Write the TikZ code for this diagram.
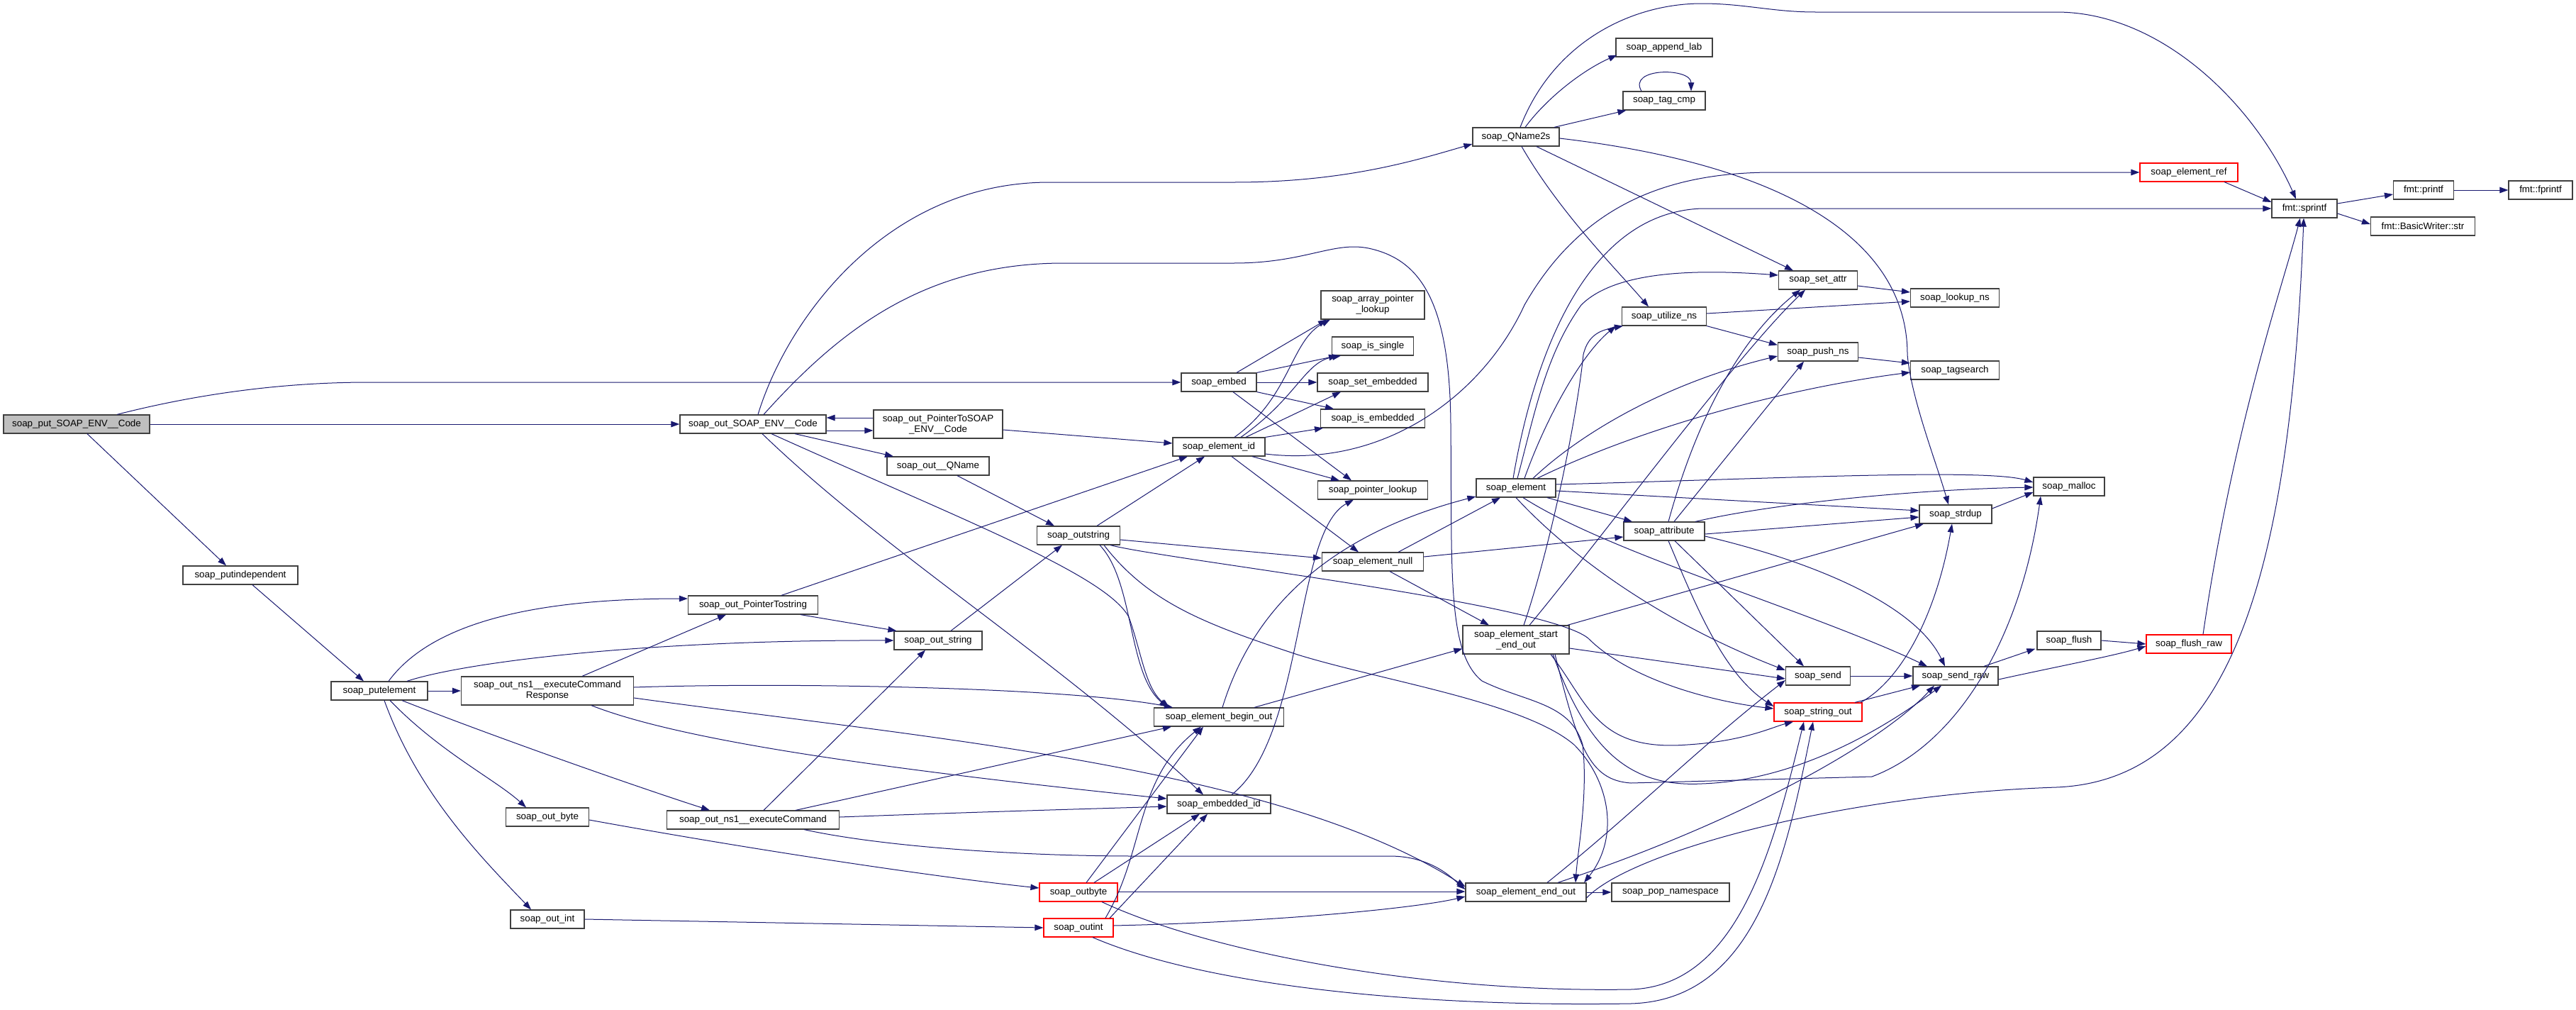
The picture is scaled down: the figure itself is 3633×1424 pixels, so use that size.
\documentclass[tikz,border=0pt]{standalone}
\usepackage{fontspec}
\setmainfont{Liberation Sans}
\usetikzlibrary{arrows.meta}
\definecolor{edgec}{HTML}{191970}
\definecolor{boxc}{HTML}{404040}
\definecolor{redc}{HTML}{FF0000}
\definecolor{rootc}{HTML}{BFBFBF}
\tikzset{
 fn/.style={draw=boxc, line width=1.2pt, fill=white, rectangle, minimum height=26pt, inner sep=0pt, font=\fontsize{13.4}{15}\selectfont, align=center, anchor=center},
 fntwo/.style={fn, minimum height=40pt},
 hot/.style={draw=redc},
 e/.style={draw=edgec, line width=1pt, -{Triangle[length=12pt,width=8.5pt]}},
}
\begin{document}
\begin{tikzpicture}[x=1pt,y=-1pt]
\useasboundingbox (0,0) rectangle (3633,1424);
\fill[white] (0,0) rectangle (3633,1424);
% nodes
\node[fn, fill=rootc, minimum width=206pt] (put) at (108,598) {soap\_put\_SOAP\_ENV\_\_Code};
\node[fn, minimum width=162pt] (putind) at (339,811) {soap\_putindependent};
\node[fn, minimum width=136pt] (putel) at (535,974) {soap\_putelement};
\node[fn, minimum width=206pt] (outcode) at (1062,598) {soap\_out\_SOAP\_ENV\_\_Code};
\node[fntwo, minimum width=182pt] (ptrcode) at (1323,598) {soap\_out\_PointerToSOAP\\\_ENV\_\_Code};
\node[fn, minimum width=144pt] (qname) at (1323,657) {soap\_out\_\_QName};
\node[fn, minimum width=183pt] (ptrstr) at (1062,853) {soap\_out\_PointerTostring};
\node[fn, minimum width=124pt] (outstr) at (1323,903) {soap\_out\_string};
\node[fntwo, minimum width=243pt] (cmdresp) at (772,974) {soap\_out\_ns1\_\_executeCommand\\Response};
\node[fn, minimum width=117pt] (obyte) at (772,1152) {soap\_out\_byte};
\node[fn, minimum width=243pt] (cmd) at (1062,1156) {soap\_out\_ns1\_\_executeCommand};
\node[fn, minimum width=104pt] (oint) at (772,1296) {soap\_out\_int};
\node[fntwo, minimum width=146pt] (apl) at (1936,430) {soap\_array\_pointer\\\_lookup};
\node[fn, minimum width=115pt] (issingle) at (1936,488) {soap\_is\_single};
\node[fn, minimum width=106pt] (embed) at (1719,539) {soap\_embed};
\node[fn, minimum width=156pt] (setemb) at (1936,539) {soap\_set\_embedded};
\node[fn, minimum width=147pt] (isemb) at (1936,590) {soap\_is\_embedded};
\node[fn, minimum width=130pt] (elid) at (1719,630) {soap\_element\_id};
\node[fn, minimum width=155pt] (ptrlook) at (1936,691) {soap\_pointer\_lookup};
\node[fn, minimum width=117pt] (outstring) at (1521,755) {soap\_outstring};
\node[fn, minimum width=143pt] (elnull) at (1936,792) {soap\_element\_null};
\node[fn, minimum width=183pt] (ebo) at (1719,1011) {soap\_element\_begin\_out};
\node[fn, minimum width=146pt] (embid) at (1719,1134) {soap\_embedded\_id};
\node[fn, hot, minimum width=110pt] (xbyte) at (1521,1258) {soap\_outbyte};
\node[fn, hot, minimum width=98pt] (xint) at (1521,1308) {soap\_outint};
\node[fn, minimum width=122pt] (qname2s) at (2138,193) {soap\_QName2s};
\node[fn, minimum width=136pt] (applab) at (2347,67) {soap\_append\_lab};
\node[fn, minimum width=116pt] (tagcmp) at (2347,142) {soap\_tag\_cmp};
\node[fn, minimum width=111pt] (setattr) at (2564,395) {soap\_set\_attr};
\node[fn, minimum width=125pt] (lookupns) at (2757,420) {soap\_lookup\_ns};
\node[fn, minimum width=119pt] (utilns) at (2347,446) {soap\_utilize\_ns};
\node[fn, minimum width=113pt] (pushns) at (2564,496) {soap\_push\_ns};
\node[fn, minimum width=125pt] (tagsearch) at (2757,522) {soap\_tagsearch};
\node[fn, minimum width=112pt] (element) at (2138,688) {soap\_element};
\node[fn, minimum width=114pt] (attribute) at (2347,749) {soap\_attribute};
\node[fn, minimum width=102pt] (strdup) at (2758,725) {soap\_strdup};
\node[fn, minimum width=100pt] (malloc) at (2918,686) {soap\_malloc};
\node[fntwo, minimum width=150pt] (eseo) at (2138,902) {soap\_element\_start\\\_end\_out};
\node[fn, minimum width=91pt] (send) at (2564,953) {soap\_send};
\node[fn, minimum width=120pt] (sendraw) at (2758,953) {soap\_send\_raw};
\node[fn, hot, minimum width=124pt] (strout) at (2564,1004) {soap\_string\_out};
\node[fn, minimum width=90pt] (flush) at (2918,903) {soap\_flush};
\node[fn, hot, minimum width=120pt] (flushraw) at (3087,908) {soap\_flush\_raw};
\node[fn, minimum width=170pt] (eeo) at (2152,1258) {soap\_element\_end\_out};
\node[fn, minimum width=166pt] (popns) at (2356,1258) {soap\_pop\_namespace};
\node[fn, hot, minimum width=138pt] (elref) at (3087,243) {soap\_element\_ref};
\node[fn, minimum width=92pt] (sprintf) at (3250,294) {fmt::sprintf};
\node[fn, minimum width=85pt] (printf) at (3418,268) {fmt::printf};
\node[fn, minimum width=90pt] (fprintf) at (3583,268) {fmt::fprintf};
\node[fn, minimum width=147pt] (bwstr) at (3417,319) {fmt::BasicWriter::str};
% edges from root
\draw[e] ([xshift=57pt]put.north) .. controls (280,555) and (400,539) .. (520,539) -- (embed.west);
\draw[e] (put.east) -- (outcode.west);
\draw[e] ([xshift=15pt]put.south) -- ([xshift=-20pt]putind.north);
\draw[e] ([xshift=17pt]putind.south) -- ([xshift=-22pt]putel.north);
% putelement
\draw[e] (putel.east) -- (cmdresp.west);
\draw[e] ([xshift=13pt]putel.north) .. controls (600,890) and (720,844) .. ([yshift=9pt]ptrstr.west);
\draw[e] ([xshift=39pt]putel.north) .. controls (650,935) and (900,902) .. (outstr.west);
\draw[e] ([xshift=32pt]putel.south) .. controls (700,1040) and (900,1110) .. ([xshift=-61pt]cmd.north);
\draw[e] ([xshift=15pt]putel.south) .. controls (620,1060) and (700,1100) .. ([xshift=-30pt]obyte.north);
\draw[e] ([xshift=7pt]putel.south) .. controls (590,1120) and (680,1210) .. ([xshift=-23pt]oint.north);
% soap_out_SOAP_ENV__Code
\draw[e] ([yshift=-9pt]outcode.east) -- ([yshift=-9pt]ptrcode.west);
\draw[e] ([yshift=9pt]ptrcode.west) -- ([yshift=9pt]outcode.east);
\draw[e] ([xshift=59pt]outcode.south) -- ([xshift=-63pt]qname.north);
\draw[e] ([xshift=7pt]outcode.north) .. controls (1110,450) and (1250,257) .. (1480,257) -- (1740,257) .. controls (1900,257) and (2000,225) .. ([yshift=-10pt]qname2s.west);
\draw[e] ([xshift=15pt]outcode.north) .. controls (1180,470) and (1300,371) .. (1500,371) -- (1740,371) .. controls (1840,371) and (1880,340) .. (1930,350) .. controls (2000,365) and (2045,420) .. (2046,600) .. controls (2048,800) and (2040,920) .. (2090,960) .. controls (2150,990) and (2215,990) .. (2232,1050) .. controls (2240,1120) and (2225,1200) .. ([xshift=70pt]eeo.north);
\draw[e] ([xshift=26pt]outcode.south) .. controls (1350,730) and (1560,810) .. (1592,870) .. controls (1610,920) and (1615,970) .. ([xshift=-70pt]ebo.north);
\draw[e] ([xshift=13pt]outcode.south) .. controls (1250,780) and (1480,920) .. ([xshift=-22pt]embid.north);
\draw[e] ([yshift=-8pt]ptrcode.east) -- ([yshift=5pt]elid.west);
\draw[e] ([xshift=27pt]qname.south) -- ([xshift=-34pt]outstring.north);
\draw[e] ([xshift=67pt]ptrstr.south) -- ([xshift=4pt]outstr.north west);
\draw[e] ([xshift=40pt]ptrstr.north) -- ([xshift=-44pt]elid.south);
\draw[e] ([xshift=18pt]outstr.north) -- ([xshift=-23pt]outstring.south);
% executeCommandResponse
\draw[e] ([xshift=49pt]cmdresp.north) -- ([xshift=-38pt]ptrstr.south);
\draw[e] ([yshift=5pt]cmdresp.east) .. controls (1100,962) and (1500,968) .. ([xshift=-65pt]ebo.north);
\draw[e] ([xshift=62pt]cmdresp.south) .. controls (950,1040) and (1200,1080) .. ([yshift=8pt]embid.west);
\draw[e] ([yshift=-10pt]cmdresp.east) .. controls (1300,1040) and (1800,1080) .. ([yshift=8pt]eeo.west);
% executeCommand
\draw[e] ([xshift=15pt]cmd.north) -- ([xshift=-18pt]outstr.south);
\draw[e] ([xshift=60pt]cmd.north) -- ([xshift=-67pt]ebo.south);
\draw[e] ([yshift=4pt]cmd.east) .. controls (1400,1144) and (1550,1140) .. ([yshift=-3pt]embid.west);
\draw[e] ([xshift=72pt]cmd.south) .. controls (1250,1195) and (1450,1207) .. (1600,1207) -- (1960,1207) .. controls (2020,1207) and (2050,1240) .. ([yshift=4pt]eeo.west);
\draw[e] ([yshift=-4pt]obyte.east) .. controls (1100,1205) and (1350,1240) .. ([yshift=6pt]xbyte.west);
\draw[e] (oint.east) -- (xint.west);
% embed
\draw[e] ([xshift=25pt]embed.north) -- ([xshift=-65pt]apl.south);
\draw[e] (embed.north east) -- ([xshift=-50pt]issingle.south);
\draw[e] (embed.east) -- (setemb.west);
\draw[e] (embed.south east) -- ([xshift=-55pt]isemb.north);
\draw[e] ([xshift=20pt]embed.south) -- ([xshift=-30pt]ptrlook.north);
% element_id
\draw[e] ([xshift=22pt]elid.north) .. controls (1820,560) and (1820,480) .. ([xshift=-60pt]apl.south);
\draw[e] ([xshift=31pt]elid.north) .. controls (1830,560) and (1840,510) .. ([xshift=-45pt]issingle.south);
\draw[e] ([xshift=38pt]elid.north) -- ([xshift=-45pt]setemb.south);
\draw[e] (elid.north east) -- ([xshift=-70pt]isemb.south);
\draw[e] ([xshift=47pt]elid.south) -- ([xshift=-47pt]ptrlook.north);
\draw[e] ([xshift=18pt]elid.south) -- ([xshift=-20pt]elnull.north);
\draw[e] ([yshift=-10pt]elid.east) .. controls (1950,660) and (2090,560) .. (2150,430) .. controls (2230,290) and (2350,243) .. (2500,243) -- (elref.west);
% outstring
\draw[e] ([xshift=26pt]outstring.north) -- ([xshift=-20pt]elid.south);
\draw[e] ([yshift=-6pt]outstring.east) -- ([yshift=5pt]elnull.west);
\draw[e] ([xshift=45pt]outstring.south) .. controls (1650,790) and (2180,850) .. (2240,900) .. controls (2300,960) and (2420,990) .. ([yshift=5pt]strout.west);
\draw[e] ([xshift=30pt]outstring.south) .. controls (1600,820) and (1590,950) .. ([xshift=-72pt]ebo.north);
\draw[e] ([xshift=36pt]outstring.south) .. controls (1620,850) and (1700,880) .. (1830,923) .. controls (1950,960) and (2150,990) .. (2220,1050) .. controls (2270,1100) and (2285,1180) .. ([xshift=82pt]eeo.north);
% element_null, begin_out, embedded_id
\draw[e] ([xshift=36pt]elnull.north) -- ([xshift=-22pt]element.south);
\draw[e] ([yshift=7pt]elnull.east) -- ([yshift=-8pt]attribute.west);
\draw[e] ([xshift=24pt]elnull.south) -- ([xshift=-38pt]eseo.north);
\draw[e] ([xshift=5pt]ebo.north) .. controls (1760,880) and (1850,760) .. ([yshift=-12pt]element.west);
\draw[e] ([xshift=50pt]ebo.north) -- ([yshift=8pt]eseo.south west);
\draw[e] ([xshift=18pt]embid.north) .. controls (1840,1040) and (1825,750) .. ([xshift=-27pt]ptrlook.south);
% outbyte / outint
\draw[e] ([xshift=11pt]xbyte.north) -- ([xshift=-22pt]ebo.south);
\draw[e] ([xshift=22pt]xbyte.north) -- ([xshift=-27pt]embid.south);
\draw[e] ([yshift=1pt]xbyte.east) -- ([yshift=1pt]eeo.west);
\draw[e] ([xshift=33pt]xbyte.south) .. controls (1700,1340) and (2000,1400) .. (2300,1395) .. controls (2450,1390) and (2500,1200) .. ([xshift=-20pt]strout.south);
\draw[e] ([xshift=38pt]xint.north) .. controls (1615,1200) and (1600,1100) .. ([xshift=-25pt]ebo.south);
\draw[e] ([xshift=44pt]xint.north) -- ([xshift=-16pt]embid.south);
\draw[e] ([yshift=3pt]xint.east) .. controls (1800,1300) and (2000,1280) .. ([yshift=-6pt]eeo.west);
\draw[e] ([xshift=20pt]xint.south) .. controls (1700,1390) and (2000,1420) .. (2300,1415) .. controls (2480,1410) and (2520,1200) .. ([xshift=-7pt]strout.south);
% QName2s
\draw[e] ([xshift=13pt]qname2s.north) .. controls (2180,140) and (2230,100) .. ([xshift=2pt,yshift=3pt]applab.south west);
\draw[e] ([xshift=54pt]qname2s.north) -- ([xshift=5pt]tagcmp.south west);
\draw[e] ([xshift=-32pt]tagcmp.north) .. controls (2295,95) and (2385,95) .. ([xshift=38pt]tagcmp.north);
\draw[e] ([xshift=6pt]qname2s.north) .. controls (2190,60) and (2300,5) .. (2400,5) .. controls (2460,5) and (2500,17) .. (2560,17) -- (2900,17) .. controls (3050,17) and (3180,150) .. ([xshift=-12pt]sprintf.north);
\draw[e] ([xshift=29pt]qname2s.south) -- ([xshift=-35pt]setattr.north);
\draw[e] ([xshift=8pt]qname2s.south) .. controls (2200,300) and (2280,380) .. ([xshift=-22pt]utilns.north);
\draw[e] ([yshift=-2pt]qname2s.east) .. controls (2500,230) and (2690,330) .. (2690,500) .. controls (2695,560) and (2730,650) .. ([xshift=-10pt]strdup.north);
\draw[e] ([yshift=-8pt]setattr.east) -- ([yshift=8pt]lookupns.west);
\draw[e] ([yshift=4pt]utilns.east) -- ([yshift=-5pt]lookupns.west);
\draw[e] (utilns.south east) -- ([yshift=-4pt]pushns.north west);
\draw[e] ([yshift=-8pt]pushns.east) -- ([yshift=10pt]tagsearch.west);
% element
\draw[e] ([xshift=2pt]element.north) .. controls (2165,580) and (2180,500) .. (2230,430) .. controls (2280,380) and (2400,380) .. ([yshift=7pt]setattr.west);
\draw[e] ([xshift=12pt]element.north) .. controls (2180,590) and (2230,500) .. ([xshift=-8pt]utilns.south west);
\draw[e] ([xshift=-4pt]element.north) .. controls (2160,520) and (2230,300) .. (2400,294) -- (sprintf.west);
\draw[e] ([xshift=24pt]element.north) .. controls (2230,610) and (2350,540) .. ([yshift=-6pt]pushns.west);
\draw[e] ([xshift=30pt]element.north) .. controls (2300,610) and (2500,550) .. ([yshift=-3pt]tagsearch.west);
\draw[e] ([yshift=5pt]element.east) .. controls (2500,675) and (2800,660) .. ([yshift=6pt]malloc.west);
\draw[e] ([yshift=-4pt]element.east) -- ([yshift=5pt]strdup.west);
\draw[e] ([xshift=44pt]element.south) -- ([xshift=-45pt]attribute.north);
\draw[e] ([xshift=0pt]element.south) .. controls (2220,790) and (2350,880) .. ([yshift=8pt]send.west);
\draw[e] ([xshift=10pt]element.south) .. controls (2270,780) and (2550,860) .. ([xshift=-40pt]sendraw.north);
% attribute
\draw[e] ([xshift=6pt]attribute.north) .. controls (2390,600) and (2450,480) .. ([xshift=-25pt]setattr.south);
\draw[e] ([xshift=14pt]attribute.north) -- ([xshift=-20pt]pushns.south);
\draw[e] ([yshift=-4pt]attribute.east) -- ([yshift=-4pt]strdup.west);
\draw[e] ([xshift=44pt]attribute.north) .. controls (2500,710) and (2700,690) .. ([yshift=-1pt]malloc.west);
\draw[e] ([yshift=-7pt]attribute.east) .. controls (2550,790) and (2700,850) .. ([xshift=-15pt]sendraw.north);
\draw[e] ([xshift=15pt]attribute.south) -- ([xshift=-20pt]send.north);
\draw[e] ([xshift=6pt]attribute.south) .. controls (2390,850) and (2430,950) .. ([yshift=8pt]strout.west);
% start_end_out
\draw[e] ([xshift=11pt]eseo.north) .. controls (2190,760) and (2225,580) .. (2233,500) .. controls (2240,470) and (2260,465) .. ([xshift=2pt]utilns.south west);
\draw[e] ([xshift=19pt]eseo.north) .. controls (2250,770) and (2450,500) .. ([xshift=-18pt]setattr.south);
\draw[e] ([xshift=-3pt]eseo.north east) -- ([xshift=-45pt]strdup.south);
\draw[e] ([yshift=-12pt]eseo.east) -- ([yshift=-4pt]send.west);
\draw[e] ([xshift=49pt]eseo.south) .. controls (2240,990) and (2250,1060) .. (2380,1050) .. controls (2460,1045) and (2500,1025) .. ([xshift=-35pt]strout.south);
\draw[e] ([xshift=52pt]eseo.south) .. controls (2240,1060) and (2300,1110) .. (2400,1105) .. controls (2550,1100) and (2680,1010) .. ([xshift=-20pt]sendraw.south);
\draw[e] ([xshift=55pt]eseo.south) .. controls (2225,1050) and (2240,1100) .. (2300,1104) -- (2640,1095) .. controls (2760,1050) and (2850,900) .. ([xshift=-40pt]malloc.south);
% senders
\draw[e] (send.east) -- (sendraw.west);
\draw[e] ([xshift=52pt]strout.north) -- ([xshift=-50pt]sendraw.south);
\draw[e] ([xshift=60pt]strout.north) .. controls (2680,960) and (2730,870) .. ([xshift=-5pt]strdup.south);
\draw[e] ([yshift=8pt]strdup.east) -- ([yshift=-8pt]malloc.west);
\draw[e] ([xshift=40pt]sendraw.north) -- ([xshift=-2pt,yshift=2pt]flush.south west);
\draw[e] ([yshift=-5pt]sendraw.east) .. controls (2900,940) and (2980,925) .. ([yshift=-3pt]flushraw.west);
\draw[e] (flush.east) -- ([yshift=-5pt]flushraw.west |- flush.east);
\draw[e] ([xshift=20pt]flushraw.north) .. controls (3150,600) and (3220,400) .. ([xshift=-6pt]sprintf.south);
% element_end_out
\draw[e] (eeo.east) -- (popns.west);
\draw[e] ([xshift=30pt]eeo.north) .. controls (2300,1150) and (2400,1050) .. ([yshift=-6pt]send.west);
\draw[e] ([xshift=45pt]eeo.north) .. controls (2450,1160) and (2650,1050) .. ([xshift=-30pt]sendraw.south);
\draw[e] ([yshift=-8pt]eeo.east) .. controls (2300,1200) and (2600,1120) .. (2900,1110) .. controls (3150,1100) and (3230,800) .. ([xshift=-1pt]sprintf.south);
% fmt
\draw[e] ([xshift=50pt]elref.south) -- ([yshift=9pt]sprintf.west);
\draw[e] ([yshift=7pt]sprintf.east) -- ([yshift=-6pt]printf.west);
\draw[e] ([yshift=-7pt]sprintf.east) -- ([yshift=3pt]bwstr.west);
\draw[e] (printf.east) -- (fprintf.west);
\end{tikzpicture}
\end{document}
